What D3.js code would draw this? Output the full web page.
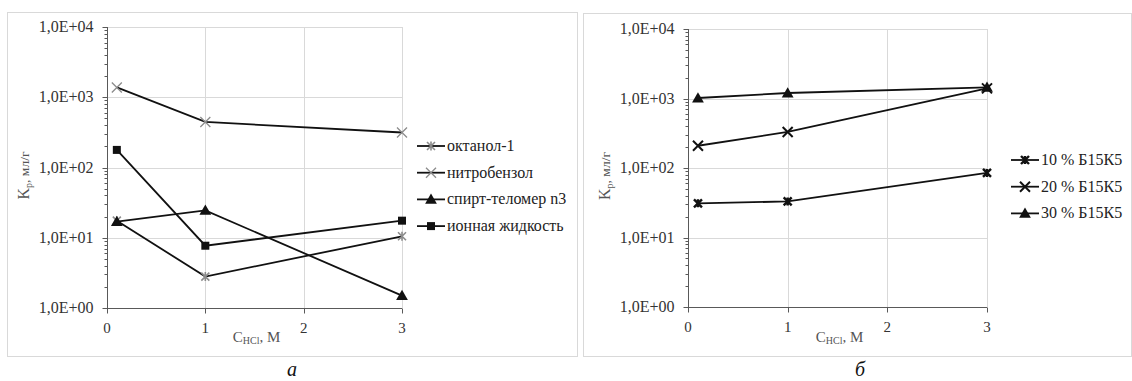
<!DOCTYPE html>
<html>
<head>
<meta charset="utf-8">
<script src="https://cdn.jsdelivr.net/npm/d3@7"></script>
<style>
  body { margin: 0; background: #fff; }
</style>
</head>
<body>
<div id="chart"></div>
<script>
// concentrations of HCl, M
const xVals = [0.1, 1, 3];
const xTicks = [0, 1, 2, 3];
const yTicks = [1, 10, 100, 1000, 10000];

// panel a
const namesA = ['октанол-1', 'нитробензол', 'спирт-теломер n3', 'ионная жидкость'];
const octanol = [17.5, 2.8, 10.5];
const nitro = [1380, 445, 315];
const spirt = [17, 24.5, 1.5];
const ionic = [178, 7.7, 17.5];

// panel b
const namesB = ['10 % Б15К5', '20 % Б15К5', '30 % Б15К5'];
const b10 = [31, 33, 85];
const b20 = [209, 330, 1400];
const b30 = [1017, 1200, 1450];

const W = 1132, H = 381;
const FONT = "'Times New Roman', Tinos, 'Liberation Serif', 'Noto Serif', 'DejaVu Serif', serif";
const svg = d3.select('#chart').append('svg').attr('width', W).attr('height', H)
  .style('font-family', FONT);

const fmt = v => '1,0E+' + String(Math.round(Math.log10(v))).padStart(2, '0');

// marker drawing
function marker(g, type, x, y, color) {
  const s = 4;
  if (type === 'star') {
    g.append('path')
      .attr('d', `M${x-s},${y-s}L${x+s},${y+s}M${x-s},${y+s}L${x+s},${y-s}M${x},${y-s-0.5}L${x},${y+s+0.5}`)
      .attr('stroke', color).attr('stroke-width', 1.6).attr('fill', 'none');
  } else if (type === 'starThick') {
    g.append('path')
      .attr('d', `M${x-s},${y-s}L${x+s},${y+s}M${x-s},${y+s}L${x+s},${y-s}M${x},${y-s}L${x},${y+s}`)
      .attr('stroke', color).attr('stroke-width', 2.4).attr('fill', 'none');
  } else if (type === 'x') {
    g.append('path')
      .attr('d', `M${x-s-1},${y-s-1}L${x+s+1},${y+s+1}M${x-s-1},${y+s+1}L${x+s+1},${y-s-1}`)
      .attr('stroke', color).attr('stroke-width', 1.3).attr('fill', 'none');
  } else if (type === 'xBold') {
    g.append('path')
      .attr('d', `M${x-s-1},${y-s-1}L${x+s+1},${y+s+1}M${x-s-1},${y+s+1}L${x+s+1},${y-s-1}`)
      .attr('stroke', color).attr('stroke-width', 2).attr('fill', 'none');
  } else if (type === 'tri') {
    g.append('path').attr('d', d3.symbol(d3.symbolTriangle, 60)())
      .attr('transform', `translate(${x},${y + 1})`).attr('fill', color);
  } else if (type === 'sq') {
    g.append('path').attr('d', d3.symbol(d3.symbolSquare, 64)())
      .attr('transform', `translate(${x},${y})`).attr('fill', color);
  }
}

function panel(cfg) {
  const { frame, left, right, top, bottom, series, legend, letter } = cfg;
  // frame
  svg.append('rect')
    .attr('x', frame[0] + 0.5).attr('y', frame[1] + 0.5)
    .attr('width', frame[2] - frame[0]).attr('height', frame[3] - frame[1])
    .attr('fill', 'none').attr('stroke', '#d9d9d9');

  const x = d3.scaleLinear().domain([0, 3]).range([left, right]);
  const y = d3.scaleLog().domain([1, 10000]).range([bottom, top]);
  const g = svg.append('g');

  // grid
  g.selectAll('.hg').data(yTicks.slice(1)).join('line')
    .attr('x1', left).attr('x2', right)
    .attr('y1', d => Math.round(y(d)) + 0.5).attr('y2', d => Math.round(y(d)) + 0.5)
    .attr('stroke', '#d9d9d9');
  g.selectAll('.vg').data(xTicks.slice(1)).join('line')
    .attr('y1', top).attr('y2', bottom)
    .attr('x1', d => Math.round(x(d)) + 0.5).attr('x2', d => Math.round(x(d)) + 0.5)
    .attr('stroke', '#d9d9d9');

  // y axis with minor ticks
  const minors = [];
  for (let e = 0; e < 4; e++) for (let k = 2; k <= 9; k++) minors.push(k * Math.pow(10, e));
  const yAxis = g.append('g').attr('transform', `translate(${Math.round(left) + 0.5},0)`);
  yAxis.selectAll('.mt').data(minors).join('line')
    .attr('x1', -3).attr('x2', 0)
    .attr('y1', d => Math.round(y(d)) + 0.5).attr('y2', d => Math.round(y(d)) + 0.5)
    .attr('stroke', '#595959');
  yAxis.selectAll('.Mt').data(yTicks).join('line')
    .attr('x1', -5).attr('x2', 0)
    .attr('y1', d => Math.round(y(d)) + 0.5).attr('y2', d => Math.round(y(d)) + 0.5)
    .attr('stroke', '#595959');
  yAxis.append('line').attr('y1', top).attr('y2', bottom).attr('stroke', '#595959');
  yAxis.selectAll('.yl').data(yTicks).join('text')
    .attr('x', -14).attr('y', d => y(d) + 5)
    .attr('text-anchor', 'end').attr('font-size', 16).attr('fill', '#333')
    .text(fmt);

  // x axis
  const xAxis = g.append('g').attr('transform', `translate(0,${Math.round(bottom) + 0.5})`);
  xAxis.append('line').attr('x1', left).attr('x2', right).attr('stroke', '#595959');
  xAxis.selectAll('.xt').data(xTicks).join('line')
    .attr('x1', d => Math.round(x(d)) + 0.5).attr('x2', d => Math.round(x(d)) + 0.5)
    .attr('y1', 0).attr('y2', 5).attr('stroke', '#595959');
  xAxis.selectAll('.xl').data(xTicks).join('text')
    .attr('x', d => x(d)).attr('y', 24)
    .attr('text-anchor', 'middle').attr('font-size', 15).attr('fill', '#333')
    .text(d => d);

  // axis titles
  const xt = g.append('text')
    .attr('x', (left + right) / 2 + 2).attr('y', 342)
    .attr('text-anchor', 'middle').attr('font-size', 15).attr('fill', '#555');
  xt.append('tspan').text('C');
  xt.append('tspan').attr('font-size', 10).attr('dy', 2).text('HCl');
  xt.append('tspan').attr('dy', -2).text(', M');

  const yt = g.append('text')
    .attr('transform', `translate(${left - 78},${(top + bottom) / 2 + 8}) rotate(-90)`)
    .attr('text-anchor', 'middle').attr('font-size', 13.5).attr('fill', '#555');
  yt.append('tspan').attr('font-size', 16).text('K');
  yt.append('tspan').attr('font-size', 10).attr('dy', 3).text('p');
  yt.append('tspan').attr('dy', -3).text(', мл/г');

  // series
  const line = d3.line().x((d, i) => x(xVals[i])).y(d => y(d));
  series.forEach(s => {
    g.append('path').datum(s.values).attr('d', line)
      .attr('fill', 'none').attr('stroke', '#111').attr('stroke-width', 1.8);
  });
  series.forEach(s => {
    s.values.forEach((v, i) => marker(g, s.marker, x(xVals[i]), y(v), s.color));
  });

  // legend
  series.forEach((s, i) => {
    const ly = legend.y + i * legend.step;
    g.append('line').attr('x1', legend.x).attr('x2', legend.x + 28)
      .attr('y1', ly).attr('y2', ly).attr('stroke', '#111').attr('stroke-width', 1.8);
    marker(g, s.marker, legend.x + 14, ly, s.color);
    g.append('text').attr('x', legend.x + 30).attr('y', ly + 5)
      .attr('font-size', 16).attr('fill', '#222').text(s.name);
  });

  // panel letter
  svg.append('text').attr('x', letter[0]).attr('y', letter[1])
    .attr('text-anchor', 'middle').attr('font-size', 20).attr('font-style', 'italic')
    .attr('fill', '#111').text(letter[2]);
}

panel({
  frame: [7, 12, 577, 356],
  left: 107, right: 402, top: 27, bottom: 308,
  series: [
    { name: namesA[0], values: octanol, marker: 'star', color: '#8c8c8c' },
    { name: namesA[1], values: nitro, marker: 'x', color: '#8c8c8c' },
    { name: namesA[2], values: spirt, marker: 'tri', color: '#111' },
    { name: namesA[3], values: ionic, marker: 'sq', color: '#111' }
  ],
  legend: { x: 417, y: 146, step: 26.7 },
  letter: [292, 376, 'а']
});

panel({
  frame: [583, 13, 1131, 356],
  left: 688, right: 987, top: 29, bottom: 307,
  series: [
    { name: namesB[0], values: b10, marker: 'starThick', color: '#111' },
    { name: namesB[1], values: b20, marker: 'xBold', color: '#111' },
    { name: namesB[2], values: b30, marker: 'tri', color: '#111' }
  ],
  legend: { x: 1011, y: 160, step: 26.7 },
  letter: [860, 376, 'б']
});
</script>
</body>
</html>
